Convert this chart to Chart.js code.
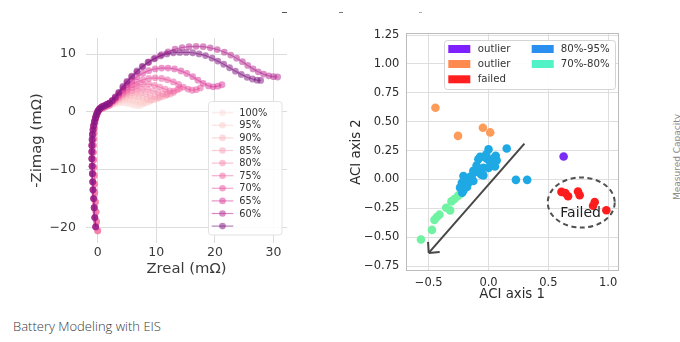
<!DOCTYPE html>
<html><head><meta charset="utf-8">
<script src="https://cdn.jsdelivr.net/npm/chart.js@4.4.1/dist/chart.umd.min.js"></script>
<style>
html,body{margin:0;padding:0;background:#fff;width:680px;height:342px;overflow:hidden;position:relative;font-family:"DejaVu Sans",sans-serif;}
#left{position:absolute;left:0;top:0;width:310px;height:300px;}
#right{position:absolute;left:340px;top:0;width:300px;height:310px;}
#caption{position:absolute;left:13px;top:317px;font-family:"Open Sans","Noto Sans",sans-serif;font-size:13px;font-weight:300;color:#3a3a3a;line-height:18px;white-space:nowrap;}
#side{position:absolute;left:677px;top:157px;transform:translate(-50%,-50%) rotate(-90deg);font-size:9px;color:#8a8a8a;white-space:nowrap;font-family:"DejaVu Sans",sans-serif;}
.frag{position:absolute;height:1.5px;top:11.5px;}
</style></head><body>
<div id="left"><canvas id="c1" width="310" height="300"></canvas></div>
<div id="right"><canvas id="c2" width="300" height="310"></canvas></div>
<div id="caption">Battery Modeling with EIS</div>
<div id="side">Measured Capacity</div>
<div class="frag" style="left:282px;width:5px;background:#555"></div>
<div class="frag" style="left:339px;width:4px;background:#777"></div>
<div class="frag" style="left:419px;width:3px;background:#aaa"></div>
<script>
// ---------- Left chart data: EIS Nyquist curves (Zreal, -Zimag) in mΩ ----------
const eisLabels = ['100%','95%','90%','85%','80%','75%','70%','65%','60%',''];
const eisXTicks = [0, 10, 20, 30];
const eisYTicks = [-20, -10, 0, 10];
const tailLight = [[0.0,-20.6],[-0.2,-19.0],[-0.3,-17.3],[-0.4,-15.6],[-0.5,-14.0],[-0.55,-12.5],[-0.6,-11.0],[-0.65,-9.6],[-0.7,-8.3],[-0.75,-7.0],[-0.75,-5.8],[-0.7,-4.7],[-0.65,-3.7],[-0.6,-2.8],[-0.5,-2.0],[-0.4,-1.3],[-0.25,-0.7],[-0.1,-0.25],[0.1,0.15],[0.35,0.4],[0.7,0.6],[1.1,0.8],[1.5,1.0],[2.0,1.2]];
const tailDark = [[-0.35,-19.9],[-0.5,-18.3],[-0.6,-16.6],[-0.7,-15.0],[-0.8,-13.5],[-0.85,-12.1],[-0.9,-10.7],[-0.95,-9.4],[-1.0,-8.1],[-1.0,-6.9],[-1.0,-5.8],[-0.95,-4.8],[-0.9,-3.9],[-0.8,-3.1],[-0.7,-2.4],[-0.55,-1.7],[-0.4,-1.1],[-0.25,-0.6],[-0.1,-0.2],[0.05,0.15],[0.25,0.45],[0.5,0.7],[0.8,0.9],[1.2,1.1],[1.6,1.3],[2.0,1.5]];
const arc100 = [[2.5,1.3],[3.0,1.45],[3.5,1.55],[4.0,1.6],[4.5,1.58],[5.0,1.5],[5.5,1.38],[6.0,1.25],[6.5,1.12],[7.0,1.08],[7.4,1.2],[7.8,1.4]];
const arc95 = [[2.5,1.4],[3.0,1.6],[3.6,1.85],[4.2,2.05],[4.8,2.15],[5.4,2.12],[6.0,2.0],[6.6,1.82],[7.2,1.66],[7.8,1.58],[8.3,1.62],[8.8,1.8],[9.1,2.0]];
const arc90 = [[2.5,1.5],[3.0,1.8],[3.6,2.15],[4.2,2.45],[4.9,2.7],[5.6,2.8],[6.3,2.75],[7.0,2.6],[7.7,2.4],[8.4,2.2],[9.0,2.1],[9.6,2.12],[10.1,2.3],[10.5,2.5]];
const arc85 = [[2.5,1.6],[3.0,1.95],[3.6,2.35],[4.3,2.8],[5.0,3.1],[5.8,3.35],[6.6,3.4],[7.4,3.3],[8.2,3.1],[9.0,2.85],[9.8,2.65],[10.5,2.55],[11.1,2.65],[11.6,2.85],[11.9,3.05]];
const arc80 = [[2.5,1.7],[3.0,2.05],[3.6,2.5],[4.3,3.0],[5.0,3.4],[5.8,3.75],[6.7,3.95],[7.6,4.0],[8.5,3.9],[9.4,3.65],[10.3,3.35],[11.1,3.1],[11.8,3.0],[12.4,3.1],[12.9,3.35]];
const arc75 = [[2.5,1.8],[3.0,2.2],[3.6,2.7],[4.3,3.25],[5.0,3.75],[5.8,4.2],[6.7,4.55],[7.7,4.8],[8.7,4.8],[9.7,4.6],[10.6,4.3],[11.5,3.95],[12.3,3.65],[13.0,3.6],[13.6,3.85],[14.0,4.05]];
const arc70 = [[2.5,1.85],[3.0,2.3],[3.6,2.9],[4.3,3.6],[5.0,4.2],[5.8,4.75],[6.7,5.2],[7.7,5.55],[8.7,5.8],[9.8,5.9],[10.9,5.8],[11.9,5.55],[12.9,5.2],[13.8,4.75],[14.6,4.3],[15.4,3.95],[16.1,3.75],[16.8,3.85],[17.5,4.15]];
const arc65 = [[2.5,1.9],[3.0,2.4],[3.6,3.1],[4.3,3.9],[5.0,4.7],[5.8,5.4],[6.7,6.1],[7.7,6.7],[8.7,7.15],[9.8,7.45],[10.9,7.6],[12.0,7.6],[13.1,7.45],[14.2,7.1],[15.2,6.65],[16.2,6.1],[17.1,5.5],[18.0,4.95],[18.9,4.5],[19.7,4.35],[20.5,4.45],[21.2,4.7]];
const arc60 = [[2.5,1.95],[3.0,2.5],[3.6,3.3],[4.3,4.2],[5.0,5.1],[5.8,6.0],[6.7,6.9],[7.7,7.8],[8.7,8.6],[9.8,9.3],[10.9,9.9],[12.0,10.4],[13.2,10.85],[14.4,11.15],[15.6,11.3],[16.8,11.35],[18.0,11.3],[19.2,11.1],[20.4,10.8],[21.6,10.35],[22.7,9.85],[23.7,9.3],[24.7,8.7],[25.6,8.05],[26.5,7.45],[27.4,6.95],[28.3,6.55],[29.2,6.25],[30.0,6.1],[30.7,6.05]];
const arc55 = [[2.5,2.0],[3.0,2.6],[3.6,3.4],[4.3,4.4],[5.0,5.3],[5.8,6.2],[6.7,7.1],[7.6,7.9],[8.6,8.6],[9.6,9.2],[10.7,9.7],[11.8,10.05],[12.9,10.25],[14.0,10.3],[15.1,10.3],[16.2,10.25],[17.3,10.05],[18.4,9.75],[19.5,9.3],[20.5,8.8],[21.5,8.25],[22.5,7.65],[23.5,7.05],[24.5,6.5],[25.5,6.0],[26.4,5.7],[27.2,5.5],[27.8,5.45]];
const eisArcs = [arc100, arc95, arc90, arc85, arc80, arc75, arc70, arc65, arc60, arc55];

// ---------- Right chart data: ACI axes scatter ----------
const aciXTicks = [-0.5, 0.0, 0.5, 1.0];
const aciYTicks = [-0.75, -0.5, -0.25, 0.0, 0.25, 0.5, 0.75, 1.0, 1.25];
const outlierPurple = [[0.628,0.199]];
const outlierOrange = [[-0.444,0.62],[-0.255,0.377],[-0.047,0.447],[0.014,0.407]];
const failedPts = [[0.61,-0.108],[0.642,-0.117],[0.665,-0.145],[0.748,-0.105],[0.762,-0.137],[0.888,-0.195],[0.874,-0.228],[0.985,-0.267]];
const band8095 = [[0.152,0.268],[0.229,-0.004],[0.323,-0.004],[0.0,0.26],[-0.015,0.18],[-0.07,0.195],[-0.03,0.195],[-0.085,0.175],[0.04,0.18],[0.068,0.165],[0.014,0.15],[0.054,0.112],[-0.043,0.10],[0.0,0.10],[-0.127,0.075],[-0.085,0.062],[-0.14,0.03],[-0.043,0.035],[-0.154,0.022],[-0.18,0.0],[-0.21,0.03],[-0.223,-0.028],[-0.196,-0.007],[-0.168,-0.03],[-0.223,-0.05],[-0.18,-0.065],[-0.238,-0.071],[-0.21,-0.095],[-0.127,-0.013],[-0.1,0.12],[-0.06,0.04],[-0.22,-0.115],[0.06,0.205],[-0.02,0.215]];
const band7080 = [[-0.565,-0.52],[-0.473,-0.437],[-0.452,-0.35],[-0.432,-0.325],[-0.41,-0.305],[-0.354,-0.245],[-0.321,-0.268],[-0.31,-0.19],[-0.285,-0.17],[-0.255,-0.142],[-0.238,-0.128]];
const aciLegendLabels = ['outlier','outlier','failed','80%-95%','70%-80%'];
const arrowFrom = [0.30, 0.31];
const arrowTo = [-0.50, -0.636];
const failedCenter = [0.775, -0.2];
const failedRadii = [0.28, 0.217];
const failedText = 'Failed';
const failedTextPos = [0.77, -0.296];

// ---------- styles ----------
const eisColors = ['#fcdcdc','#fbcdcb','#fab8bf','#f8a3b8','#f68ab0','#f06aa4','#e8559f','#d83a9b','#b42a92','#7e1580'];
function rgba(hex,a){const n=parseInt(hex.slice(1),16);return `rgba(${n>>16},${(n>>8)&255},${n&255},${a})`;}
const minus = v => (v < 0 ? '\u2212' : '');

const eisLegend = {
  id:'eisLegend',
  afterDraw(chart){
    const ctx = chart.ctx;
    ctx.save();
    const bx=208.5, by=101.5, bw=73.5, bh=133.5, r=3;
    ctx.beginPath();
    ctx.moveTo(bx+r,by);ctx.lineTo(bx+bw-r,by);ctx.quadraticCurveTo(bx+bw,by,bx+bw,by+r);
    ctx.lineTo(bx+bw,by+bh-r);ctx.quadraticCurveTo(bx+bw,by+bh,bx+bw-r,by+bh);
    ctx.lineTo(bx+r,by+bh);ctx.quadraticCurveTo(bx,by+bh,bx,by+bh-r);
    ctx.lineTo(bx,by+r);ctx.quadraticCurveTo(bx,by,bx+r,by);ctx.closePath();
    ctx.fillStyle='rgba(255,255,255,0.88)';ctx.fill();
    ctx.strokeStyle='#e2e2e2';ctx.lineWidth=1;ctx.stroke();
    chart.data.datasets.forEach((ds,i)=>{
      const yy = 112.7 + i*12.6;
      ctx.strokeStyle = ds.borderColor; ctx.lineWidth = ds.borderWidth;
      ctx.beginPath(); ctx.moveTo(211.7,yy); ctx.lineTo(233.3,yy); ctx.stroke();
      ctx.fillStyle = ds.backgroundColor;
      ctx.beginPath(); ctx.arc(222.5,yy,3.3,0,Math.PI*2); ctx.fill();
      ctx.fillStyle='#333'; ctx.font='9.8px "DejaVu Sans"'; ctx.textBaseline='middle'; ctx.textAlign='left';
      ctx.fillText(ds.label, 239.3, yy+0.5);
    });
    ctx.restore();
  }
};

new Chart(document.getElementById('c1'), {
  type:'scatter',
  data:{datasets: eisArcs.map((arc,i)=>({
    label: eisLabels[i],
    data: (i<6 ? tailLight : tailDark).concat(arc).map(([x,y])=>({x,y})),
    showLine:true,
    borderColor: rgba(eisColors[i],0.55),
    backgroundColor: rgba(eisColors[i],0.52),
    borderWidth:1.2,
    pointRadius:3.4,
    pointBorderWidth:0,
    order: 10-i
  }))},
  options:{
    responsive:false, animation:false, events:[],
    layout:{padding:{left:27.8, top:38, right:23, bottom:22}},
    plugins:{legend:{display:false}, tooltip:{enabled:false}},
    scales:{
      x:{type:'linear', min:-2, max:32.3,
        afterBuildTicks:s=>{s.ticks = eisXTicks.map(v=>({value:v}));},
        afterFit:s=>{s.height=35;},
        grid:{color:'#dcdcdc', lineWidth:1, drawTicks:false}, border:{display:false},
        ticks:{padding:2, color:'#3a3a3a', font:{family:'DejaVu Sans', size:12.5}, callback:v=>minus(v)+Math.abs(v)},
        title:{display:true, text:'Zreal (mΩ)', color:'#3a3a3a', font:{family:'DejaVu Sans', size:14.8}, padding:0}},
      y:{type:'linear', min:-22.7, max:12.8,
        afterBuildTicks:s=>{s.ticks = eisYTicks.map(v=>({value:v}));},
        afterFit:s=>{s.width=58.2;},
        grid:{color:'#dcdcdc', lineWidth:1, drawTicks:false}, border:{display:false},
        ticks:{padding:10, color:'#3a3a3a', font:{family:'DejaVu Sans', size:12.5}, callback:v=>minus(v)+Math.abs(v)},
        title:{display:true, text:'-Zimag (mΩ)', color:'#3a3a3a', font:{family:'DejaVu Sans', size:14.8}, padding:0}}
    }
  },
  plugins:[eisLegend]
});

// ---------- right chart ----------
const aciPointColors = ['#7b2cf5','#fd9c5a','#fe1c1c','#1fa9e4','#6ff3a2'];
const aciPatchColors = ['#7f20ff','#ff8a50','#ff1f1f','#2b8ff0','#50f2c6'];
const aciSets = [outlierPurple, outlierOrange, failedPts, band8095, band7080];

const aciExtras = {
  id:'aciExtras',
  beforeDatasetsDraw(chart){
    const {ctx, chartArea:a} = chart;
    ctx.save(); ctx.strokeStyle='#bcbcbc'; ctx.lineWidth=1;
    ctx.strokeRect(Math.round(a.left)+0.5, Math.round(a.top)+0.5, Math.round(a.right-a.left), Math.round(a.bottom-a.top));
    ctx.restore();
  },
  afterDatasetsDraw(chart){
    const {ctx} = chart; const xs=chart.scales.x, ys=chart.scales.y;
    ctx.save();
    const x0=xs.getPixelForValue(arrowFrom[0]), y0=ys.getPixelForValue(arrowFrom[1]);
    const x1=xs.getPixelForValue(arrowTo[0]), y1=ys.getPixelForValue(arrowTo[1]);
    ctx.strokeStyle='#474747'; ctx.lineWidth=2; ctx.lineCap='butt';
    ctx.beginPath(); ctx.moveTo(x0,y0); ctx.lineTo(x1,y1); ctx.stroke();
    const ang=Math.atan2(y0-y1,x0-x1);
    ctx.beginPath();
    [-0.78,0.78].forEach(d=>{ctx.moveTo(x1,y1); ctx.lineTo(x1+11*Math.cos(ang+d), y1+11*Math.sin(ang+d));});
    ctx.stroke();
    const cx=xs.getPixelForValue(failedCenter[0]), cy=ys.getPixelForValue(failedCenter[1]);
    const rx=Math.abs(xs.getPixelForValue(failedCenter[0]+failedRadii[0])-cx);
    const ry=Math.abs(ys.getPixelForValue(failedCenter[1]+failedRadii[1])-cy);
    ctx.setLineDash([5,3.5]); ctx.strokeStyle='#505050'; ctx.lineWidth=2;
    ctx.beginPath(); ctx.ellipse(cx,cy,rx,ry,0,0,Math.PI*2); ctx.stroke();
    ctx.setLineDash([]);
    ctx.fillStyle='#222'; ctx.font='14px "DejaVu Sans"'; ctx.textAlign='center'; ctx.textBaseline='middle';
    ctx.fillText(failedText, xs.getPixelForValue(failedTextPos[0]), ys.getPixelForValue(failedTextPos[1]));
    ctx.restore();
  },
  afterDraw(chart){
    const {ctx} = chart;
    ctx.save();
    const bx=104.5, by=40.5, bw=171, bh=49, r=3;
    ctx.beginPath();
    ctx.moveTo(bx+r,by);ctx.lineTo(bx+bw-r,by);ctx.quadraticCurveTo(bx+bw,by,bx+bw,by+r);
    ctx.lineTo(bx+bw,by+bh-r);ctx.quadraticCurveTo(bx+bw,by+bh,bx+bw-r,by+bh);
    ctx.lineTo(bx+r,by+bh);ctx.quadraticCurveTo(bx,by+bh,bx,by+bh-r);
    ctx.lineTo(bx,by+r);ctx.quadraticCurveTo(bx,by,bx+r,by);ctx.closePath();
    ctx.fillStyle='rgba(255,255,255,0.9)';ctx.fill();
    ctx.strokeStyle='#d4d4d4';ctx.lineWidth=1;ctx.stroke();
    const rowsY=[49,64,79.3];
    ctx.font='10.2px "DejaVu Sans"'; ctx.textBaseline='middle'; ctx.textAlign='left';
    aciLegendLabels.forEach((lab,i)=>{
      const col = i<3 ? 0 : 1, row = i<3 ? i : i-3;
      const px = col===0 ? 108.3 : 191.7, tx = col===0 ? 137.7 : 220.7, yy=rowsY[row];
      ctx.fillStyle=aciPatchColors[i]; ctx.fillRect(px, yy-4, 22, 8);
      ctx.fillStyle='#333'; ctx.fillText(lab, tx, yy+0.5);
    });
    ctx.restore();
  }
};

new Chart(document.getElementById('c2'), {
  type:'scatter',
  data:{datasets: aciSets.map((pts,i)=>({
    label: aciLegendLabels[i],
    data: pts.map(([x,y])=>({x,y})),
    backgroundColor: aciPointColors[i],
    pointRadius:4.3, pointBorderWidth:0
  }))},
  options:{
    responsive:false, animation:false, events:[],
    layout:{padding:{left:8.7, top:33.3, right:21.7, bottom:7}},
    plugins:{legend:{display:false}, tooltip:{enabled:false}},
    scales:{
      x:{type:'linear', min:-0.69, max:1.085,
        afterBuildTicks:s=>{s.ticks = aciXTicks.map(v=>({value:v}));},
        afterFit:s=>{s.height=32.3;},
        grid:{color:'#dedede', lineWidth:1, drawTicks:false}, border:{display:false},
        ticks:{padding:5, color:'#2b2b2b', font:{family:'DejaVu Sans', size:11.5}, callback:v=>minus(v)+Math.abs(v).toFixed(1)},
        title:{display:true, text:'ACI axis 1', color:'#2b2b2b', font:{family:'DejaVu Sans', size:13.3}, padding:0}},
      y:{type:'linear', min:-0.79, max:1.265,
        afterBuildTicks:s=>{s.ticks = aciYTicks.map(v=>({value:v}));},
        afterFit:s=>{s.width=57.3;},
        grid:{color:'#dedede', lineWidth:1, drawTicks:false}, border:{display:false},
        ticks:{padding:6.7, color:'#2b2b2b', font:{family:'DejaVu Sans', size:11.5}, callback:v=>minus(v)+Math.abs(v).toFixed(2)},
        title:{display:true, text:'ACI axis 2', color:'#2b2b2b', font:{family:'DejaVu Sans', size:13.3}, padding:0}}
    }
  },
  plugins:[aciExtras]
});
</script>
</body></html>
